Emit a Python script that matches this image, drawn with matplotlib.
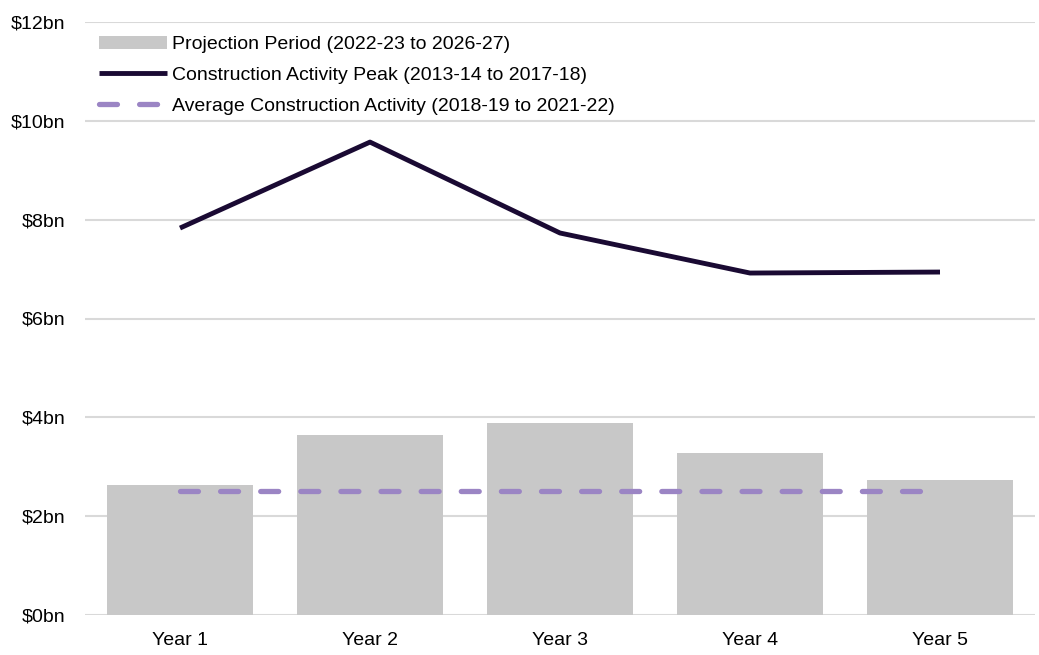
import matplotlib
matplotlib.use('Agg')
import matplotlib.pyplot as plt
import numpy as np

# Werte (Mrd. $)
years = ['Year 1', 'Year 2', 'Year 3', 'Year 4', 'Year 5']
projection = [2.63, 3.64, 3.89, 3.28, 2.74]
peak = [7.83, 9.57, 7.73, 6.92, 6.94]
average = [2.51, 2.51, 2.51, 2.51, 2.51]
yticks = [0, 2, 4, 6, 8, 10, 12]

plt.rcParams['font.family'] = ['Liberation Sans', 'DejaVu Sans']

fig = plt.figure(figsize=(10.39, 6.55), dpi=100)
ax = fig.add_axes([85/1039, 1-615/655, 950/1039, 593/655])

x = np.arange(len(years))
b = ax.bar(x, projection, width=0.77, color='#c8c8c8', label='Projection Period (2022-23 to 2026-27)', zorder=2)
l1, = ax.plot(x, peak, color='#1a0a33', lw=3.5, solid_capstyle='butt',
              label='Construction Activity Peak (2013-14 to 2017-18)', zorder=3)
l2, = ax.plot(x, average, color='#9b85c4', lw=3.8, dashes=(3.4, 4.2), dash_capstyle='round',
              label='Average Construction Activity (2018-19 to 2021-22)', zorder=3)

ax.set_xlim(-0.5, 4.5)
ax.set_ylim(0, 12)
ax.set_yticks(yticks)
ax.set_yticklabels(['$%dbn' % v for v in yticks])
ax.set_xticks(x)
ax.set_xticklabels(years)
ax.tick_params(axis='both', length=0, labelsize=14, colors='black')
ax.tick_params(axis='y', pad=14)
ax.tick_params(axis='x', pad=12)
ax.grid(axis='y', color='#d9d9d9', lw=1.5, zorder=0)
ax.set_axisbelow(True)
for s in ax.spines.values():
    s.set_visible(False)

ax.legend([b, l1, l2], [b.get_label(), l1.get_label(), l2.get_label()],
          loc='upper left', bbox_to_anchor=(0.0, 1.0), frameon=False, fontsize=14,
          handlelength=3.5, handletextpad=0.3, labelspacing=0.68, borderaxespad=0.3)

plt.savefig('out.png', dpi=100)
